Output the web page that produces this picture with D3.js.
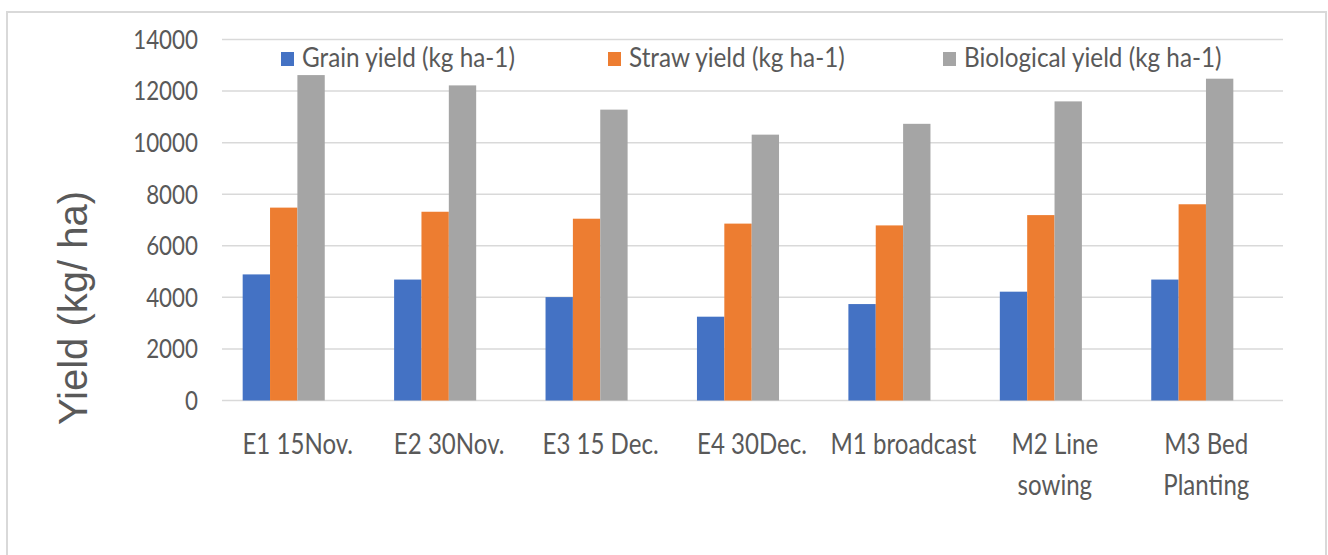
<!DOCTYPE html>
<html>
<head>
<meta charset="utf-8">
<script src="https://cdn.jsdelivr.net/npm/d3@7"></script>
<style>
    body { margin: 0; background: #fff; }
    svg { display: block; }
</style>
</head>
<body>
<div id="chart"></div>
<script>
// categories and their two-line labels as printed under the axis
const categories = ["E1 15Nov.", "E2 30Nov.", "E3 15 Dec.", "E4 30Dec.", "M1 broadcast", "M2 Line sowing", "M3 Bed Planting"];
const categoryLines = [["E1 15Nov."], ["E2 30Nov."], ["E3 15 Dec."], ["E4 30Dec."], ["M1 broadcast"], ["M2 Line", "sowing"], ["M3 Bed", "Planting"]];

const seriesNames = ["Grain yield (kg ha-1)", "Straw yield (kg ha-1)", "Biological yield (kg ha-1)"];
const grainYield = [4890, 4690, 4010, 3250, 3740, 4220, 4690];
const strawYield = [7480, 7320, 7050, 6860, 6790, 7190, 7610];
const biologicalYield = [12620, 12220, 11280, 10310, 10730, 11600, 12480];

const yTicks = [0, 2000, 4000, 6000, 8000, 10000, 12000, 14000];

const seriesColors = {
    "Grain yield (kg ha-1)": "#4472C4",
    "Straw yield (kg ha-1)": "#ED7D31",
    "Biological yield (kg ha-1)": "#A5A5A5"
};

function renderChart() {
    const width = 1328, height = 555;
    const textColor = "#595959";
    const labelFont = "Lato, 'Open Sans', sans-serif";
    // the original face is narrow (Calibri-like), squeeze ours horizontally
    const squeeze = 0.86;
    // in the original the bar clusters sit a little left of their category slot
    const barShift = -14;

    const rows = categories.map((c, i) => ({
        category: c,
        values: [grainYield[i], strawYield[i], biologicalYield[i]]
    }));

    const svg = d3.select("#chart").append("svg")
        .attr("width", width)
        .attr("height", height);

    // chart frame
    svg.append("rect")
        .attr("x", 7)
        .attr("y", 12)
        .attr("width", 1319)
        .attr("height", 560)
        .attr("fill", "#fff")
        .attr("stroke", "#d9d9d9")
        .attr("stroke-width", 2);

    const y = d3.scaleLinear()
        .domain([0, 14000])
        .range([400.5, 39.5]);

    const x0 = d3.scaleBand()
        .domain(categories)
        .range([222, 1282])
        .paddingInner(0.458)
        .paddingOuter(0.229);

    const x1 = d3.scaleBand()
        .domain(seriesNames)
        .range([0, x0.bandwidth()]);

    // gridlines
    svg.append("g")
        .selectAll("line")
        .data(yTicks)
        .enter().append("line")
        .attr("x1", x0.range()[0])
        .attr("x2", x0.range()[1] + 1)
        .attr("y1", d => y(d))
        .attr("y2", d => y(d))
        .attr("stroke", "#d9d9d9")
        .attr("stroke-width", 1.5);

    // y tick labels
    svg.append("g")
        .selectAll("text")
        .data(yTicks)
        .enter().append("text")
        .attr("transform", d => `translate(198,${y(d)}) scale(${squeeze},1)`)
        .attr("dy", "0.36em")
        .attr("text-anchor", "end")
        .style("font-family", labelFont)
        .style("font-size", "26px")
        .style("fill", textColor)
        .text(d => d);

    // bars
    svg.append("g")
        .selectAll("g")
        .data(rows)
        .enter().append("g")
        .attr("transform", d => `translate(${x0(d.category) + barShift},0)`)
        .selectAll("rect")
        .data(d => d.values.map((v, i) => ({ key: seriesNames[i], value: v })))
        .enter().append("rect")
        .attr("x", d => x1(d.key))
        .attr("y", d => y(d.value))
        .attr("width", x1.bandwidth())
        .attr("height", d => y(0) - y(d.value))
        .attr("fill", d => seriesColors[d.key]);

    // category labels
    const catLabels = svg.append("g")
        .selectAll("text")
        .data(categories)
        .enter().append("text")
        .attr("transform", d => `translate(${x0(d) + x0.bandwidth() / 2},454) scale(${squeeze},1)`)
        .attr("text-anchor", "middle")
        .style("font-family", labelFont)
        .style("font-size", "28px")
        .style("fill", textColor);

    catLabels.selectAll("tspan")
        .data((d, i) => categoryLines[i])
        .enter().append("tspan")
        .attr("x", 0)
        .attr("dy", (d, i) => i === 0 ? 0 : 41)
        .text(d => d);

    // y axis title
    svg.append("text")
        .attr("transform", "translate(87,308) rotate(-90)")
        .attr("text-anchor", "middle")
        .style("font-family", "'Liberation Sans', Arial, sans-serif")
        .style("font-size", "40px")
        .style("fill", textColor)
        .text("Yield (kg/ ha)");

    // legend
    const legendX = [281, 608, 943];
    const legend = svg.append("g");
    seriesNames.forEach((name, i) => {
        const item = legend.append("g")
            .attr("transform", `translate(${legendX[i]},52)`);
        item.append("rect")
            .attr("width", 13)
            .attr("height", 14)
            .attr("fill", seriesColors[name]);
        item.append("text")
            .attr("transform", `translate(21,15) scale(0.9,1)`)
            .style("font-family", labelFont)
            .style("font-size", "27px")
            .style("fill", textColor)
            .text(name);
    });
}

renderChart();
</script>
</body>
</html>
